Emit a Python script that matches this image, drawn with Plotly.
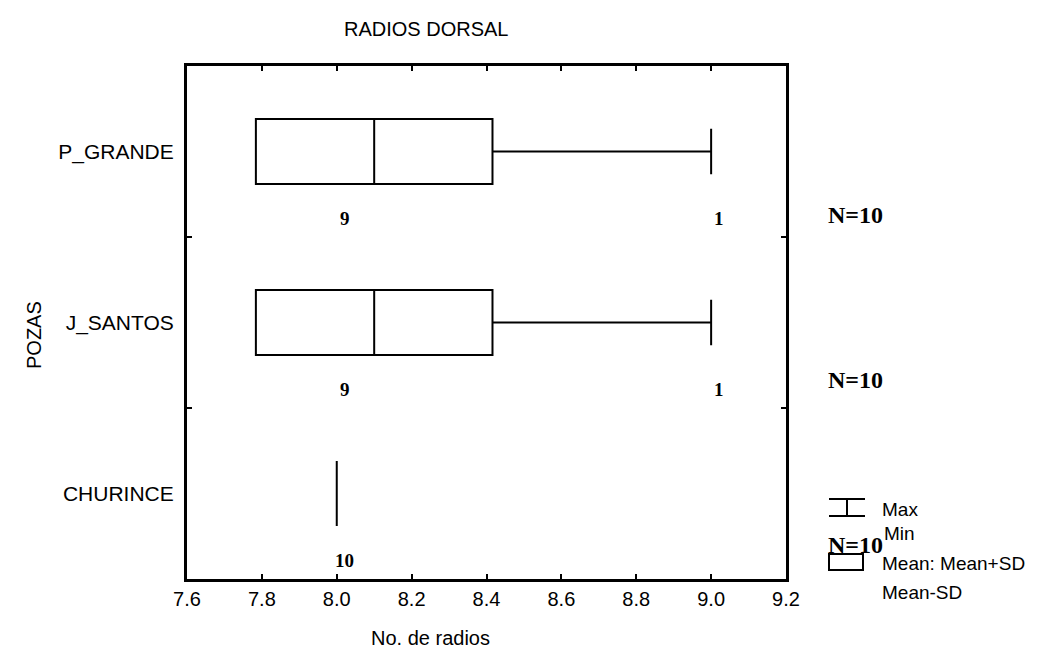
import plotly.graph_objects as go

# ---- data ----
categories = ["P_GRANDE", "J_SANTOS", "CHURINCE"]
means = [8.1, 8.1, 8.0]
sds = [0.316, 0.316, 0.0]
mins = [8.0, 8.0, 8.0]
maxs = [9.0, 9.0, 8.0]
n_obs = [10, 10, 10]
# frequency labels (value -> count) printed under each box
count_values = [[8.0, 9.0], [8.0, 9.0], [8.0]]
count_numbers = [[9, 1], [9, 1], [10]]

x_ticks = [7.6, 7.8, 8.0, 8.2, 8.4, 8.6, 8.8, 9.0, 9.2]
cat_order = ["CHURINCE", "J_SANTOS", "P_GRANDE"]  # bottom to top

# ---- layout geometry (pixels) ----
W, H = 1044, 650
pw, ph = 599, 513
L, T = 179, 58
R, B = W - L - pw, H - T - ph
DX, DY = -6, -6  # page offset compensation for pixel-placed decorations


def px2paper(px, py):
    return (px + DX - L) / pw, (H - B - (py + DY)) / ph


SANS = "Liberation Sans, Arial, sans-serif"
SERIF = "Liberation Serif, Times New Roman, serif"

fig = go.Figure()
for cat, m, s, mn, mx in zip(categories, means, sds, mins, maxs):
    fig.add_trace(go.Box(
        orientation="h",
        y=[cat],
        q1=[m - s], median=[m], q3=[m + s],
        lowerfence=[min(mn, m - s)], upperfence=[max(mx, m + s)],
        boxpoints=False,
        width=0.38,
        whiskerwidth=0.7,
        line=dict(color="black", width=2),
        fillcolor="rgba(0,0,0,0)",
        hoverinfo="skip",
        showlegend=False,
    ))

annotations = []
# counts under the boxes
for cat, vals, cnts in zip(categories, count_values, count_numbers):
    yi = cat_order.index(cat)
    for v, c in zip(vals, cnts):
        annotations.append(dict(
            x=v, y=yi - 0.39, xref="x", yref="y", text=f"<b>{c}</b>", showarrow=False,
            xshift=8, font=dict(family=SERIF, size=19, color="black"),
        ))
# N= labels on the right
n_label_py = [213, 378, 543]
for nn, py in zip(n_obs, n_label_py):
    xp, yp = px2paper(853, py)
    annotations.append(dict(
        x=xp, y=yp, xref="paper", yref="paper",
        text=f"<b>N={nn}</b>", showarrow=False, xanchor="center", yanchor="middle",
        font=dict(family=SERIF, size=24, color="black"),
    ))

# axis titles and chart title
xp, yp = px2paper(428, 636)
annotations.append(dict(
    x=xp, y=yp, xref="paper", yref="paper", yanchor="middle",
    text="No. de radios", showarrow=False, font=dict(family=SANS, size=20, color="black"),
))
xp, yp = px2paper(19, 333)
annotations.append(dict(
    x=xp, y=yp, xref="paper", yref="paper",
    text="POZAS", showarrow=False, textangle=-90, font=dict(family=SANS, size=20, color="black"),
))
xp, yp = px2paper(424, 27)
annotations.append(dict(
    x=xp, y=yp, xref="paper", yref="paper", yanchor="middle",
    text="RADIOS DORSAL", showarrow=False, font=dict(family=SANS, size=20, color="black"),
))

# legend (custom)
legend_items = [("Max", 878, 507), ("Min", 880, 531), ("Mean: Mean+SD", 878, 561), ("Mean-SD", 878, 590)]
for txt, lx, ly in legend_items:
    xp, yp = px2paper(lx, ly)
    annotations.append(dict(
        x=xp, y=yp, xref="paper", yref="paper", text=txt, showarrow=False,
        xanchor="left", yanchor="middle", font=dict(family=SANS, size=19, color="black"),
    ))

shapes = []
lc = dict(color="black", width=2)
for (x0, y0, x1, y1) in [(827, 497, 863, 497), (827, 514, 863, 514), (845, 497, 845, 514)]:
    a0 = px2paper(x0, y0)
    a1 = px2paper(x1, y1)
    shapes.append(dict(type="line", xref="paper", yref="paper", x0=a0[0], y0=a0[1], x1=a1[0], y1=a1[1], line=lc))
r0 = px2paper(827, 552)
r1 = px2paper(861, 568)
shapes.append(dict(type="rect", xref="paper", yref="paper", x0=r0[0], y0=r0[1], x1=r1[0], y1=r1[1], line=lc))

fig.update_layout(
    width=W, height=H,
    margin=dict(l=L, r=R, t=T, b=B),
    paper_bgcolor="white", plot_bgcolor="white",
    annotations=annotations, shapes=shapes,
    showlegend=False,
    font=dict(family=SANS, color="black"),
)
fig.update_xaxes(
    range=[7.6, 9.2], tickvals=x_ticks, ticktext=[f"{v:.1f}" for v in x_ticks],
    ticks="inside", ticklen=5, tickwidth=2, tickcolor="black",
    showline=True, linewidth=3, linecolor="black", mirror="ticks",
    showgrid=False, zeroline=False, tickfont=dict(family=SANS, size=20, color="black"),
)
fig.update_yaxes(
    type="category", categoryorder="array", categoryarray=cat_order,
    range=[-0.5, 2.5], tickson="boundaries",
    ticks="inside", ticklen=5, tickwidth=2, tickcolor="black",
    showline=True, linewidth=3, linecolor="black", mirror="ticks",
    showgrid=False, zeroline=False, ticklabelstandoff=6,
    tickfont=dict(family=SANS, size=21, color="black"),
)

fig.write_html("out.html", config=dict(displayModeBar=False))
